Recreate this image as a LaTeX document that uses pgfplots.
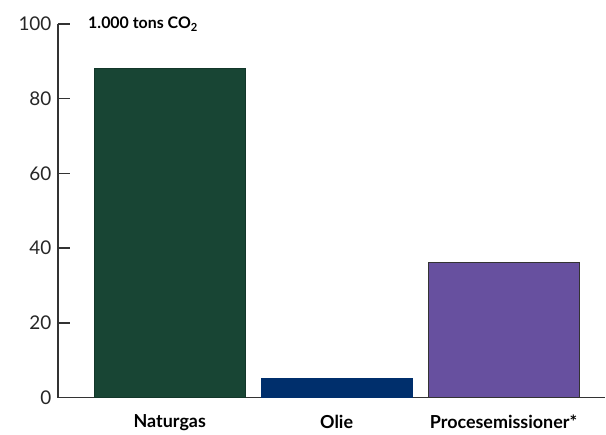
\documentclass[border=0pt]{standalone}
\usepackage{pgfplots}
\pgfplotsset{compat=1.18}
\usepackage{fontspec}
\setmainfont{Lato}
\definecolor{cgas}{HTML}{184534}
\definecolor{coil}{HTML}{002F6C}
\definecolor{cproc}{HTML}{67509F}
\definecolor{axc}{HTML}{333333}
\begin{document}
\begin{tikzpicture}
\begin{axis}[
  scale only axis,
  width=548bp, height=374bp,
  xmin=-0.67, xmax=2.61,
  ymin=0, ymax=100,
  axis x line=bottom, axis y line=left,
  axis line style={axc, line width=1.4pt, -},
  xtick={0,1,2},
  xticklabels={Naturgas,Olie,Procesemissioner*},
  x tick style={draw=none},
  x tick label style={font=\fontsize{18}{20}\selectfont\bfseries, text=black, yshift=-2bp},
  ytick={0,20,40,60,80,100},
  y tick style={axc, line width=1.4pt},
  major tick length=12bp,
  tick align=inside,
  y tick label style={font=\fontsize{19}{21}\selectfont, text=black!85, xshift=-3bp},
  /pgf/number format/assume math mode=true,
  ybar, bar width=151bp,
  clip=false,
]
\addplot[draw=cgas!80!black, line width=0.6pt, fill=cgas, bar shift=0pt] coordinates {(0,88.2)};
\addplot[draw=coil, line width=0.6pt, fill=coil, bar shift=0pt] coordinates {(1,5.1)};
\addplot[draw=axc, line width=0.6pt, fill=cproc, bar shift=0pt] coordinates {(2,36.1)};
\node[anchor=base west, font=\fontsize{16}{18}\selectfont\bfseries, inner sep=0pt] at (rel axis cs:0.055,0.988) {1.000 tons CO\textsubscript{2}};
\end{axis}
\useasboundingbox (-58bp,-27bp) rectangle (548bp,398bp);
\end{tikzpicture}
\end{document}
